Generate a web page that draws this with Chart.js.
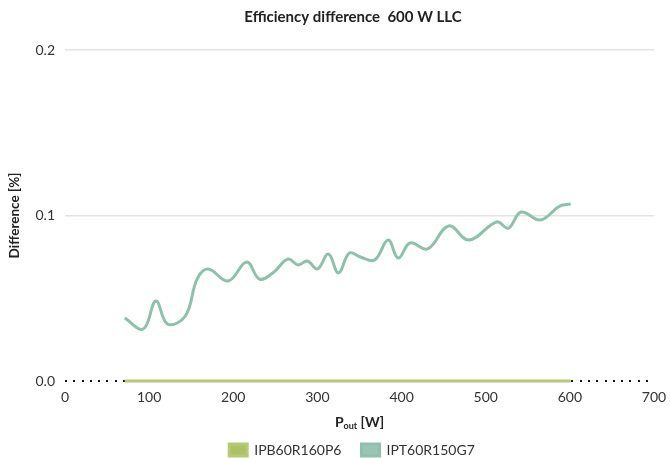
<!DOCTYPE html>
<html>
<head>
<meta charset="utf-8">
<script src="https://cdn.jsdelivr.net/npm/chart.js@4"></script>
<style>
html,body{margin:0;padding:0;background:#fff;}
#wrap{width:670px;height:458px;}
</style>
</head>
<body>
<div id="wrap"><canvas id="c" width="670" height="458"></canvas></div>
<script>
const FONT = "Lato, 'Open Sans', sans-serif";
const titleText = "Efficiency difference  600 W LLC";
const yTitle = "Difference [%]";
const xTitleMain = "P";
const xTitleSub = "out";
const xTitleUnit = " [W]";
const seriesNames = ["IPB60R160P6", "IPT60R150G7"];
const xTicks = [0, 100, 200, 300, 400, 500, 600, 700];
const yTicks = [0.0, 0.1, 0.2];

const powerW = [71, 93, 108, 122, 143, 157, 170, 194, 216, 231, 247, 265, 277, 288, 300, 313, 325, 338, 351, 368, 384, 396, 410, 431, 456, 480, 513, 527, 542, 565, 588, 601];
const ipb60r160p6 = [0, 0, 0, 0, 0, 0, 0, 0, 0, 0, 0, 0, 0, 0, 0, 0, 0, 0, 0, 0, 0, 0, 0, 0, 0, 0, 0, 0, 0, 0, 0, 0];
const ipt60r150g7 = [0.0381, 0.0314, 0.0483, 0.0344, 0.0393, 0.0616, 0.0677, 0.0604, 0.0719, 0.0616, 0.0653, 0.0737, 0.0701, 0.0725, 0.0677, 0.0767, 0.0653, 0.0773, 0.0749, 0.0731, 0.0852, 0.0743, 0.0834, 0.0798, 0.0937, 0.0852, 0.0961, 0.0924, 0.1021, 0.0973, 0.1057, 0.1069];

const toXY = (xs, ys) => xs.map((x, i) => ({x: x, y: ys[i]}));

const axisDotsPlugin = {
  id: 'axisDots',
  beforeDatasetsDraw(chart) {
    const ctx = chart.ctx;
    const area = chart.chartArea;
    const y0 = chart.scales.y.getPixelForValue(0);
    ctx.save();
    ctx.fillStyle = '#111';
    for (let x = area.left; x <= area.right; x += 8.3) {
      ctx.fillRect(Math.round(x), Math.round(y0) - 1, 2, 2);
    }
    ctx.restore();
  }
};

const shiftPlugin = {
  id: 'blockShift',
  afterLayout(chart) {
    const lg = chart.legend;
    if (lg) { lg.top += 9; lg.bottom += 9; lg.left += 25; lg.right += 25; }
    const tb = chart.titleBlock;
    if (tb) { tb.left += 26; tb.right += 26; }
  }
};

const xTitlePlugin = {
  id: 'xTitlePlugin',
  afterDraw(chart) {
    const ctx = chart.ctx;
    const area = chart.chartArea;
    const cx = (area.left + area.right) / 2;
    const y = 422;
    ctx.save();
    ctx.fillStyle = '#222';
    ctx.textBaseline = 'middle';
    const fMain = "bold 14px " + FONT;
    const fSub = "bold 9px " + FONT;
    ctx.font = fMain;
    const wP = ctx.measureText(xTitleMain).width;
    const wU = ctx.measureText(xTitleUnit).width;
    ctx.font = fSub;
    const wS = ctx.measureText(xTitleSub).width;
    const total = wP + wS + wU;
    let x = cx - total / 2;
    ctx.textAlign = 'left';
    ctx.font = fMain;
    ctx.fillText(xTitleMain, x, y);
    x += wP;
    ctx.font = fSub;
    ctx.fillText(xTitleSub, x, y + 4);
    x += wS;
    ctx.font = fMain;
    ctx.fillText(xTitleUnit, x, y);
    ctx.restore();
  }
};

new Chart(document.getElementById('c'), {
  type: 'line',
  data: {
    datasets: [
      {
        label: seriesNames[0],
        data: toXY(powerW, ipb60r160p6),
        borderColor: '#b7c877',
        backgroundColor: '#adc165',
        borderWidth: 3,
        pointRadius: 0,
        tension: 0.4,
        clip: false
      },
      {
        label: seriesNames[1],
        data: toXY(powerW, ipt60r150g7),
        borderColor: '#8fc0ab',
        backgroundColor: '#9cc4b6',
        borderWidth: 3,
        pointRadius: 0,
        tension: 0.4,
        clip: false
      }
    ]
  },
  options: {
    responsive: false,
    animation: false,
    devicePixelRatio: 1,
    layout: {padding: {left: 0, right: 16, top: 0, bottom: 0}},
    plugins: {
      title: {
        display: true,
        text: titleText,
        color: '#222',
        font: {family: FONT, size: 15, weight: 'bold'},
        padding: {top: 8, bottom: 24}
      },
      legend: {
        position: 'bottom',
        labels: {
          color: '#333',
          font: {family: FONT, size: 14},
          boxWidth: 18,
          boxHeight: 12,
          padding: 20
        }
      },
      tooltip: {enabled: false}
    },
    scales: {
      x: {
        type: 'linear',
        min: 0,
        max: 700,
        afterBuildTicks(scale) { scale.ticks = xTicks.map(v => ({value: v})); },
        ticks: {
          color: '#333',
          font: {family: FONT, size: 14},
          padding: 0,
          maxRotation: 0,
          autoSkip: false
        },
        grid: {display: false},
        border: {display: false},
        afterFit(scale) { scale.height = 33; }
      },
      y: {
        min: 0,
        max: 0.2,
        afterBuildTicks(scale) { scale.ticks = yTicks.map(v => ({value: v})); },
        ticks: {
          color: '#333',
          font: {family: FONT, size: 14},
          padding: 10,
          callback: v => Number(v).toFixed(1)
        },
        grid: {
          color: ctx => (ctx.tick && ctx.tick.value === 0) ? 'rgba(0,0,0,0)' : '#e6e2e3',
          lineWidth: 1.5,
          drawTicks: false
        },
        border: {display: false},
        title: {
          display: true,
          text: yTitle,
          color: '#222',
          font: {family: FONT, size: 13.5, weight: 'bold'},
          padding: {top: 7, bottom: 0}
        },
        afterFit(scale) { scale.width = 65; }
      }
    }
  },
  plugins: [axisDotsPlugin, shiftPlugin, xTitlePlugin]
});
</script>
</body>
</html>
